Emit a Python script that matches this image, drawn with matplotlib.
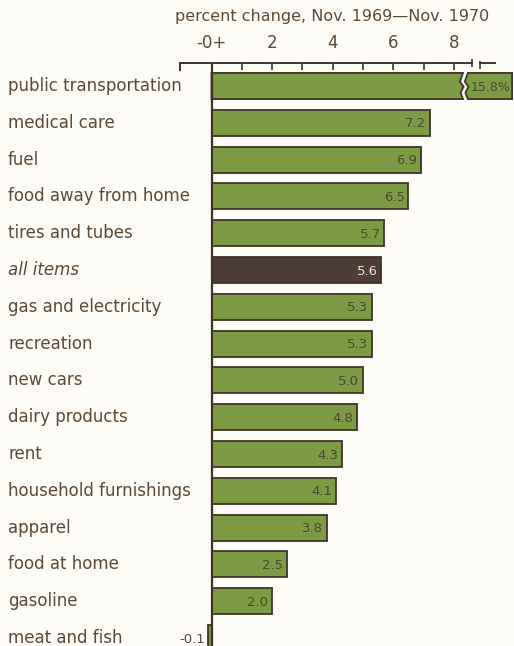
import matplotlib
matplotlib.use("Agg")
import matplotlib.pyplot as plt
from matplotlib.patches import Polygon
from matplotlib.transforms import blended_transform_factory

categories = [
    "public transportation", "medical care", "fuel", "food away from home",
    "tires and tubes", "all items", "gas and electricity", "recreation",
    "new cars", "dairy products", "rent", "household furnishings",
    "apparel", "food at home", "gasoline", "meat and fish",
]
values = [15.8, 7.2, 6.9, 6.5, 5.7, 5.6, 5.3, 5.3, 5.0, 4.8, 4.3, 4.1, 3.8, 2.5, 2.0, -0.1]
value_labels = ["15.8%", "7.2", "6.9", "6.5", "5.7", "5.6", "5.3", "5.3", "5.0",
                "4.8", "4.3", "4.1", "3.8", "2.5", "2.0", "-0.1"]
tick_values = [0, 2, 4, 6, 8]
tick_labels = ["-0+", "2", "4", "6", "8"]
highlight = "all items"

BG = "#fdfcf7"
GREEN = "#7d9b45"
DARK = "#4e3d37"
EDGE = "#3f3326"
TEXT = "#5d4833"
NUM = "#4a4630"
FONT = "DejaVu Sans"

W, H = 514, 646
fig = plt.figure(figsize=(W / 100, H / 100), dpi=100, facecolor=BG)

# axes: top spine is the scale line; data 0 sits at x = 211.5 px, 1 unit = 30.3 px
left_px, right_px, top_px = 180, 472, 63
ax = fig.add_axes([left_px / W, 0, (right_px - left_px) / W, (H - top_px) / H])
ax.set_facecolor("none")
unit = 30.3
ax.set_xlim((left_px - 211.5) / unit, (right_px - 211.5) / unit)
row0, step = 86, 36.8
ax.set_ylim((H - row0) / step, (top_px - row0) / step)

for s in ["left", "right", "bottom"]:
    ax.spines[s].set_visible(False)
ax.spines["top"].set_color(EDGE)
ax.spines["top"].set_linewidth(1.4)
ax.xaxis.tick_top()
ax.set_xticks(list(range(0, 9)))
ax.set_xticklabels([""] * 9)
ax.tick_params(axis="x", direction="in", length=5, width=1.2, color=EDGE)
ax.set_yticks([])
for v, lab in zip(tick_values, tick_labels):
    ax.text(v, -0.93, lab, ha="center", va="bottom", fontsize=12,
            color=TEXT, family=FONT)

# end marks of the scale line
xmin, xmax = ax.get_xlim()
ytop = ax.get_ylim()[1]
ax.plot([xmin, xmin], [ytop, ytop + 0.22], color=EDGE, lw=1.4, clip_on=False,
        solid_capstyle="butt")
ax.plot([xmax, xmax], [ytop - 0.1, ytop + 0.12], color=EDGE, lw=1.2, clip_on=False,
        solid_capstyle="butt")
# continuation of the scale beyond the break
seg_start, seg_end = (480 - 211.5) / unit, (495 - 211.5) / unit
ax.plot([seg_start, seg_end], [ytop, ytop], color=EDGE, lw=1.4, clip_on=False)
ax.plot([seg_start, seg_start], [ytop - 0.05, ytop + 0.15], color=EDGE, lw=1.2,
        clip_on=False, solid_capstyle="butt")

ax.axvline(0, color=EDGE, lw=1.6, zorder=4)

bar_h = 0.71
break_at = 8.3       # where the long bar is cut
gap = 0.16
compress = 5.88      # scale skipped by the break
label_tf = blended_transform_factory(fig.transFigure, ax.transData)

for i, (cat, val, lab) in enumerate(zip(categories, values, value_labels)):
    color = DARK if cat == highlight else GREEN
    top, bot = i - bar_h / 2, i + bar_h / 2
    if val > xmax:
        shown = val - compress

        def zig(b):
            return [(b, top), (b - 0.1, i - 0.12), (b + 0.02, i + 0.02),
                    (b - 0.08, i + 0.18), (b, bot)]
        p1 = [(0, bot), (0, top)] + zig(break_at)
        p2 = [(shown, top)] + zig(break_at + gap) + [(shown, bot)]
        ax.add_patch(Polygon(p1, closed=True, fc=color, ec=EDGE, lw=1.3, clip_on=False))
        ax.add_patch(Polygon(p2, closed=True, fc=color, ec=EDGE, lw=1.3, clip_on=False))
        ax.text(shown - 0.06, i + 0.03, lab, ha="right", va="center", fontsize=9,
                color=NUM, family=FONT, clip_on=False)
    else:
        ax.bar(0, bar_h, width=val, bottom=top, align="edge", color=color,
               edgecolor=EDGE, linewidth=1.3, clip_on=False)
        if val > 0:
            tc = "#efe7d2" if cat == highlight else NUM
            ax.text(val - 0.12, i + 0.03, lab, ha="right", va="center",
                    fontsize=9.5, color=tc, family=FONT)
        else:
            ax.text(val - 0.1, i + 0.05, lab, ha="right", va="center",
                    fontsize=9.5, color=TEXT, family=FONT)
    ax.text(8 / W, i, cat, transform=label_tf,
            ha="left", va="center", fontsize=12, color=TEXT, family=FONT,
            style="italic" if cat == highlight else "normal")

fig.text(332 / W, 1 - 16 / H, "percent change, Nov. 1969\u2014Nov. 1970",
         ha="center", va="center", fontsize=11.5, color=TEXT, family=FONT)

fig.savefig("out.png", dpi=100, facecolor=BG)
